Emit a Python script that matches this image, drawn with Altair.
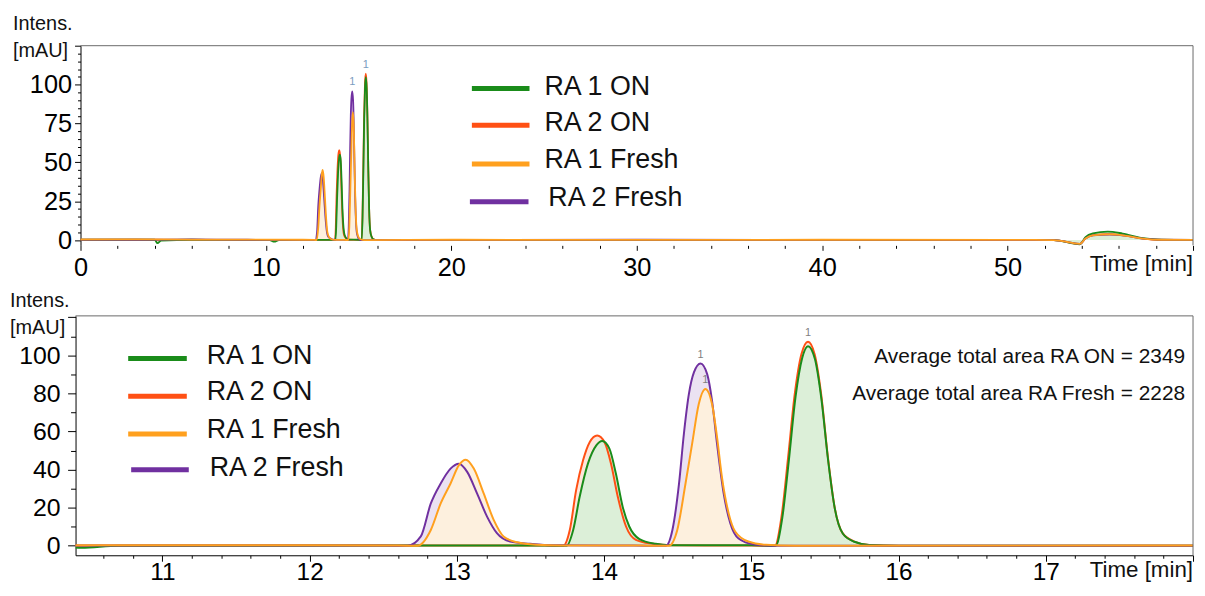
import altair as alt
import pandas as pd

FONT = "Liberation Sans"

series_names = ["RA 1 ON", "RA 2 ON", "RA 1 Fresh", "RA 2 Fresh"]
series_colors = ["#1a8c1a", "#ff5014", "#ffa01e", "#7030a0"]
series_fills = ["#dcefd8", "#fde6dc", "#fdf0de", "#ebe2f2"]

ra1_on_time = [0, 2.0, 4.0, 4.15, 4.35, 6.0, 8.0, 10.2, 10.45, 10.7, 12.5, 13.6,
               13.745, 13.79, 13.834, 13.89, 13.947, 13.987, 14.036, 14.08, 14.126, 14.171, 14.24, 14.35, 14.45,
               15.0, 15.165, 15.21, 15.255, 15.30, 15.345, 15.385, 15.432, 15.476, 15.522, 15.567, 15.622, 15.70, 15.80, 16.0,
               20, 30, 40, 50, 52.5, 53.9, 54.2, 54.6, 55.4, 56.2, 57.3, 58.3, 60]
ra1_on_int = [0.3, 0.2, 0.2, -2.0, -0.3, 0.2, 0.1, 0.0, -1.0, 0.0, 0.1, 0.1,
              0, 8.3, 25.7, 43.1, 52.7, 55.0, 51.0, 37.9, 20.5, 10.1, 3.5, 1.0, 0.3,
              0.2, 0, 14.5, 45.0, 78.0, 98.5, 104.8, 98.0, 77.0, 44.5, 19.5, 6.3, 2.1, 0.4, 0,
              0.1, 0.0, 0.1, 0.0, 0.0, -2.7, 1.9, 4.3, 5.5, 4.2, 1.2, 0.2, 0]

ra2_on_time = [0, 3.0, 6.0, 9.0, 12.0, 13.6,
               13.722, 13.767, 13.81, 13.857, 13.902, 13.953, 14.003, 14.047, 14.093, 14.149, 14.216, 14.33, 14.45,
               15.0,
               15.16, 15.205, 15.25, 15.295, 15.34, 15.385, 15.43, 15.474, 15.52, 15.565, 15.62, 15.70, 15.80, 16.0,
               20, 30, 40, 50, 52.5, 53.9, 54.2, 54.6, 55.5, 56.3, 57.3, 58.3, 60]
ra2_on_int = [0.1, 0.2, 0.1, 0.0, 0.1, 0.1,
              0, 8.3, 29.2, 44.9, 54.4, 57.9, 54.4, 43.1, 25.7, 10.1, 3.1, 1.0, 0.2,
              0.1,
              0, 15.3, 46.6, 79.7, 100.5, 107.1, 100.5, 79.7, 46.6, 20.5, 6.6, 2.2, 0.4, 0,
              0.1, 0.0, 0.1, 0.0, 0.0, -2.5, 1.2, 3.2, 3.8, 3.0, 1.0, 0.1, 0]

ra1_fresh_time = [0, 3.0, 6.0, 9.0, 12.0, 12.6,
                  12.733, 12.823, 12.89, 12.957, 13.014, 13.06, 13.115, 13.182, 13.25, 13.317, 13.41, 13.54, 13.7,
                  14.2,
                  14.44, 14.497, 14.553, 14.598, 14.643, 14.688, 14.733, 14.767, 14.80, 14.846, 14.89, 14.98, 15.10, 15.3,
                  20, 30, 40, 50, 52.5, 53.9, 54.2, 54.6, 55.5, 56.3, 57.3, 58.3, 60]
ra1_fresh_int = [0.4, 0.5, 0.3, 0.3, 0.2, 0.1,
                 0, 8.3, 22.2, 32.7, 42.3, 45.2, 40.5, 27.5, 13.6, 4.9, 1.8, 0.5, 0.1,
                 0.1,
                 0, 8.3, 32.7, 53.6, 74.4, 82.3, 74.4, 57.0, 36.2, 17.0, 7.5, 2.2, 0.5, 0,
                 0.2, 0.1, 0.2, 0.1, 0.0, -2.4, 1.0, 3.0, 3.6, 2.9, 1.0, 0.2, 0.1]

ra2_fresh_time = [0, 3.0, 6.0, 9.0, 12.0, 12.5,
                  12.666, 12.755, 12.823, 12.89, 12.957, 13.014, 13.07, 13.137, 13.205, 13.272, 13.362, 13.497, 13.65,
                  14.2,
                  14.419, 14.464, 14.509, 14.542, 14.576, 14.61, 14.655, 14.70, 14.733, 14.767, 14.812, 14.857, 14.913, 15.02, 15.15,
                  20, 30, 40, 50, 52.5, 53.9, 54.2, 54.6, 55.5, 56.3, 57.3, 58.3, 60]
ra2_fresh_int = [0.3, 0.2, 0.4, 0.2, 0.1, 0.1,
                 0, 4.9, 22.2, 32.7, 40.5, 43.1, 38.8, 27.5, 15.3, 6.6, 2.2, 1.0, 0.2,
                 0.1,
                 0, 8.3, 32.7, 58.8, 79.7, 91.0, 95.7, 90.1, 76.2, 53.6, 27.5, 11.8, 3.8, 0.7, 0,
                 0.1, 0.2, 0.1, 0.0, 0.0, -2.4, 1.0, 3.0, 3.5, 2.8, 0.9, 0.2, 0.1]

peak_label_time = [14.655, 14.688, 15.385]
peak_label_int = [95.7, 82.3, 107.1]
peak_label_text = ["1", "1", "1"]

annotations = ["Average total area RA ON = 2349", "Average total area RA Fresh = 2228"]

times = [ra1_on_time, ra2_on_time, ra1_fresh_time, ra2_fresh_time]
ints = [ra1_on_int, ra2_on_int, ra1_fresh_int, ra2_fresh_int]

frames = []
for name, t, v in zip(series_names, times, ints):
    frames.append(pd.DataFrame({"series": name, "time": t, "intensity": v}))
df = pd.concat(frames, ignore_index=True)
peaks = pd.DataFrame({"time": peak_label_time, "intensity": peak_label_int, "label": peak_label_text})
one = pd.DataFrame({"k": [0]})

color_enc = alt.Color("series:N", scale=alt.Scale(domain=series_names, range=series_colors), legend=None)
fill_enc = alt.Fill("series:N", scale=alt.Scale(domain=series_names, range=series_fills), legend=None)
area_order = ["RA 2 Fresh", "RA 2 ON", "RA 1 Fresh", "RA 1 ON"]
line_order = ["RA 2 ON", "RA 1 ON", "RA 2 Fresh", "RA 1 Fresh"]


def major(step):
    return f"abs(datum.value / {step} - round(datum.value / {step})) < 0.001"


def make_axis(values, step, label_max, tmaj, tmin, size, pad, offset=0, domain=True, baseline=None):
    kw = {}
    if baseline:
        kw["labelBaseline"] = baseline
    return alt.Axis(values=values, title=None, grid=False, domain=domain, domainColor="#000000",
                    tickColor="#000000", tickWidth=1,
                    tickSize={"condition": {"test": major(step), "value": tmaj}, "value": tmin},
                    labelExpr=f"{major(step)} && datum.value <= {label_max} ? format(datum.value, 'd') : ''",
                    labelFont=FONT, labelFontSize=size, labelColor="#000000", labelPadding=pad,
                    labelOverlap=False, labelFlush=False, offset=offset, **kw)


def txt(s, x, y, size, align="left", color="#111111"):
    return alt.Chart(one).mark_text(text=s, align=align, baseline="middle", fontSize=size,
                                    font=FONT, color=color).encode(x=alt.value(x), y=alt.value(y))


def panel(W, H, xdom, ydom, xaxis, yaxis, clip, lw, legend_line, legend_text, title_xy,
          peak_idx, peak_color, extra):
    X = alt.X("time:Q", scale=alt.Scale(domain=xdom, nice=False, zero=False), axis=xaxis)
    Y = alt.Y("intensity:Q", scale=alt.Scale(domain=ydom, nice=False, zero=False), axis=yaxis)
    layers = []
    for name in area_order:
        sub = df[df.series == name]
        layers.append(alt.Chart(sub).mark_area(interpolate="monotone", clip=clip).encode(
            x=X, y=Y, fill=fill_enc))
    for name in line_order:
        sub = df[df.series == name]
        layers.append(alt.Chart(sub).mark_line(interpolate="monotone", clip=clip,
                                               strokeWidth=lw).encode(x=X, y=Y, color=color_enc))
    layers.append(alt.Chart(peaks.iloc[peak_idx]).mark_text(dy=-9, fontSize=11, font=FONT,
                                                           color=peak_color).encode(x=X, y=Y, text="label:N"))
    # frame (top and right)
    layers.append(alt.Chart(one).mark_rule(color="#6a6a6a", strokeWidth=1).encode(
        x=alt.value(extra["frame_left"]), x2=alt.value(W), y=alt.value(0)))
    layers.append(alt.Chart(one).mark_rule(color="#6a6a6a", strokeWidth=1).encode(
        x=alt.value(W), y=alt.value(0), y2=alt.value(H)))
    # legend
    for i, name in enumerate(series_names):
        x0, x1, ly = legend_line[i]
        tx, ty = legend_text[i]
        layers.append(alt.Chart(one).mark_rule(color=series_colors[i], strokeWidth=5).encode(
            x=alt.value(x0), x2=alt.value(x1), y=alt.value(ly)))
        layers.append(txt(name, tx, ty, 27))
    # axis titles
    (ix, iy1, iy2) = title_xy
    layers.append(txt("Intens.", ix, iy1, 20))
    layers.append(txt("[mAU]", ix, iy2, 20))
    layers.append(txt("Time [min]", W, H + extra["time_dy"], 22.5, align="right"))
    for item in extra.get("texts", []):
        layers.append(txt(*item))
    return alt.layer(*layers).properties(width=W, height=H)


W = 1125

top_x = make_axis(list(range(0, 61, 2)), 10, 50, 5, 3, 25.5, 5, domain=False)
top_y = make_axis(list(range(0, 126, 5)), 25, 100, 6, 3, 25.5, 3, offset=-5)
top = panel(W, 201, [-0.268, 60.0], [-3.4, 125.1], top_x, top_y, False, 1.8,
            [(399, 457, 43), (399, 457, 80), (399, 457, 119), (397, 456, 157)],
            [(472, 42), (472, 78), (472, 115), (476, 153)],
            (-63, -22, 5), [0, 2], "#7a9cc0", {"frame_left": 5, "time_dy": 19})

bot_x = make_axis([round(10.6 + 0.2 * k, 1) for k in range(38)], 1, 17, 6, 3, 24.5, 11,
                  baseline="middle")
bot_y = make_axis(list(range(0, 121, 10)), 20, 100, 8, 5, 25, 7.5)
bottom = panel(W, 241, [10.41, 18.0], [-5.0, 120.7], bot_x, bot_y, True, 2,
               [(53, 112, 43), (53, 112, 81), (53, 112, 119), (56, 114, 155)],
               [(132, 40), (132, 77), (132, 115), (135, 153)],
               (-66, -15, 12), [0, 1, 2], "#808080",
               {"frame_left": 0, "time_dy": 15,
                "texts": [(annotations[0], W - 8, 41, 21, "right"),
                          (annotations[1], W - 8, 79, 21, "right")]})

chart = alt.vconcat(top, bottom, spacing=10).properties(
    padding={"left": 2, "top": 4, "right": 0, "bottom": 2}
).configure_view(stroke=None)

chart.save("out.html", embed_options={"renderer": "svg", "actions": False})
